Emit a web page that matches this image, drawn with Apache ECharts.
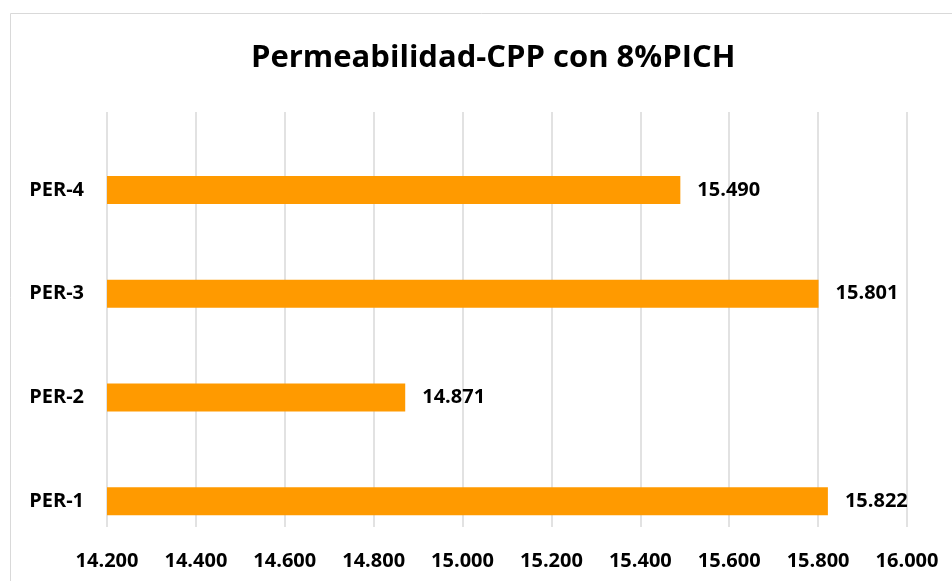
<!DOCTYPE html>
<html>
<head>
<meta charset="utf-8">
<script src="https://cdn.jsdelivr.net/npm/echarts@6/dist/echarts.min.js"></script>
<style>
  html, body { margin: 0; padding: 0; background: #fff; }
  #chart { width: 952px; height: 581px; }
</style>
</head>
<body>
<div id="chart"></div>
<script>
// datos
const categories = ["PER-1", "PER-2", "PER-3", "PER-4"];
const permeabilidad = [15822, 14871, 15801, 15490];
const axisMin = 14200;
const axisMax = 16000;
const axisStep = 200;

const fontFamily = "'Open Sans', 'Liberation Sans', sans-serif";

// formato con separador de miles estilo es-ES
const fmt = (v) => {
    const s = String(Math.round(v));
    return s.replace(/\B(?=(\d{3})+(?!\d))/g, ".");
};

const chart = echarts.init(document.getElementById("chart"));
chart.setOption({
    animation: false,
    graphic: [
        {
            type: "rect",
            shape: { x: 10.5, y: 13.5, width: 960, height: 600 },
            style: { fill: "none", stroke: "#d9d9d9", lineWidth: 1 }
        }
    ],
    title: {
        text: "Permeabilidad-CPP con 8%PICH",
        left: 246,
        top: 38,
        textStyle: {
            fontFamily: fontFamily,
            fontWeight: "bold",
            fontSize: 31,
            color: "#000"
        }
    },
    // grid 0: barras y categorías; grid 1: líneas de división y eje X
    grid: [
        { left: 107, right: 45, top: 138, bottom: 28 },
        { left: 107, right: 45, top: 112, bottom: 54 }
    ],
    xAxis: [
        {
            type: "value",
            gridIndex: 0,
            min: axisMin,
            max: axisMax,
            interval: axisStep,
            show: false
        },
        {
            type: "value",
            gridIndex: 1,
            min: axisMin,
            max: axisMax,
            interval: axisStep,
            axisLine: { show: false },
            axisTick: { show: false },
            splitLine: { lineStyle: { color: "#d9d9d9", width: 1.5 } },
            axisLabel: {
                margin: 24,
                formatter: fmt,
                fontFamily: fontFamily,
                fontWeight: "bold",
                fontSize: 20,
                color: "#000"
            }
        }
    ],
    yAxis: [
        {
            type: "category",
            gridIndex: 0,
            data: categories,
            axisLine: { show: false },
            axisTick: { show: false },
            splitLine: { show: false },
            axisLabel: {
                margin: 23,
                fontFamily: fontFamily,
                fontWeight: "bold",
                fontSize: 20,
                color: "#000"
            }
        },
        {
            type: "category",
            gridIndex: 1,
            data: categories,
            show: false
        }
    ],
    series: [
        {
            name: "Permeabilidad",
            type: "bar",
            xAxisIndex: 0,
            yAxisIndex: 0,
            data: permeabilidad,
            barWidth: 28,
            itemStyle: { color: "#ff9a00" },
            z: 3,
            label: {
                show: true,
                position: "right",
                distance: 17,
                formatter: (p) => fmt(p.value),
                fontFamily: fontFamily,
                fontWeight: "bold",
                fontSize: 20,
                color: "#000"
            }
        }
    ]
});
</script>
</body>
</html>
